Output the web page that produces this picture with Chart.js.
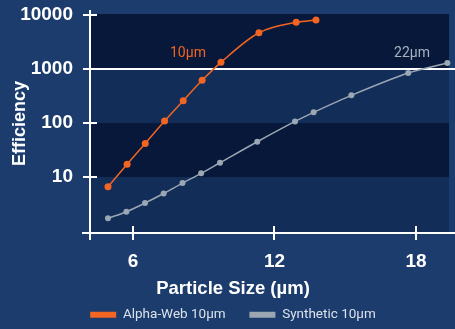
<!DOCTYPE html>
<html lang="en">
<head>
    <meta charset="UTF-8">
    <title>Efficiency vs Particle Size</title>
    <script src="https://cdn.jsdelivr.net/npm/chart.js"></script>
    <style>
        html, body { margin: 0; padding: 0; background: #1b3c6c; }
        #wrap { width: 455px; height: 329px; }
    </style>
</head>
<body>
    <div id="wrap">
        <canvas id="effChart" width="455" height="329"></canvas>
    </div>

    <script>
        // values
        var alphaX = [4.94, 5.75, 6.52, 7.34, 8.13, 8.93, 9.73, 11.34, 12.92, 13.76];
        var alphaY = [6.6, 17.2, 42, 109, 259, 618, 1331, 4700, 7330, 8080];
        var synthX = [4.94, 5.72, 6.51, 7.30, 8.10, 8.89, 9.69, 11.27, 12.87, 13.66, 15.26, 17.67, 19.33];
        var synthY = [1.72, 2.28, 3.30, 4.95, 7.74, 11.7, 18.4, 45, 107, 158, 326, 843, 1291];
        var seriesNames = ['Alpha-Web 10µm', 'Synthetic 10µm'];
        var xTicks = [6, 12, 18];
        var yTicks = [10, 100, 1000, 10000];
        var curveLabels = ['10µm', '22µm'];
        var curveLabelX = [8.33, 17.83];
        var curveLabelY = [1900, 1900];

        var BOLD = "'Liberation Sans', Arial, sans-serif";
        var LIGHT = "Roboto, 'Liberation Sans', sans-serif";
        var ORANGE = '#f26522';
        var GREY = '#9ba7b3';

        function toPoints(xs, ys) {
            return xs.map(function (x, i) { return { x: x, y: ys[i] }; });
        }

        // bands, white 1000 line, axes, tick marks and curve labels
        var decor = {
            id: 'decor',
            beforeDatasetsDraw: function (chart) {
                var ctx = chart.ctx, a = chart.chartArea;
                var xs = chart.scales.x, ys = chart.scales.y;
                var right = xs.getPixelForValue(19.4);
                var edges = [a.top, ys.getPixelForValue(1000), ys.getPixelForValue(100), ys.getPixelForValue(10), a.bottom];
                var fills = ['#07183b', '#132d59', '#07183b', '#132d59'];
                ctx.save();
                for (var i = 0; i < fills.length; i++) {
                    ctx.fillStyle = fills[i];
                    ctx.fillRect(a.left, edges[i], right - a.left, edges[i + 1] - edges[i]);
                }
                ctx.strokeStyle = '#ffffff';
                ctx.lineWidth = 2;
                ctx.beginPath();
                var y1000 = Math.round(ys.getPixelForValue(1000));
                ctx.moveTo(a.left, y1000);
                ctx.lineTo(chart.width, y1000);
                ctx.moveTo(a.left, a.top - 4);
                ctx.lineTo(a.left, a.bottom + 7);
                ctx.moveTo(a.left - 8, a.bottom);
                ctx.lineTo(chart.width, a.bottom);
                yTicks.forEach(function (v) {
                    var p = Math.round(ys.getPixelForValue(v));
                    ctx.moveTo(a.left - 7, p);
                    ctx.lineTo(a.left + 7, p);
                });
                xTicks.forEach(function (v) {
                    var p = Math.round(xs.getPixelForValue(v));
                    ctx.moveTo(p, a.bottom - 7);
                    ctx.lineTo(p, a.bottom + 7);
                });
                ctx.stroke();

                ctx.font = '14px ' + LIGHT;
                ctx.textAlign = 'center';
                ctx.textBaseline = 'middle';
                var colors = [ORANGE, '#a7b2be'];
                curveLabels.forEach(function (t, i) {
                    ctx.fillStyle = colors[i];
                    ctx.fillText(t, xs.getPixelForValue(curveLabelX[i]), ys.getPixelForValue(curveLabelY[i]));
                });
                ctx.restore();
            }
        };

        var ctx = document.getElementById('effChart').getContext('2d');
        var effChart = new Chart(ctx, {
            type: 'line',
            data: {
                datasets: [
                    {
                        label: seriesNames[0],
                        data: toPoints(alphaX, alphaY),
                        borderColor: ORANGE,
                        backgroundColor: ORANGE,
                        borderWidth: 1.5,
                        pointRadius: 3.5,
                        pointBorderWidth: 0,
                        cubicInterpolationMode: 'monotone',
                    },
                    {
                        label: seriesNames[1],
                        data: toPoints(synthX, synthY),
                        borderColor: GREY,
                        backgroundColor: GREY,
                        borderWidth: 1.5,
                        pointRadius: 3,
                        pointBorderWidth: 0,
                        tension: 0.3,
                    },
                ],
            },
            options: {
                responsive: false,
                animation: false,
                clip: false,
                layout: { autoPadding: false, padding: { left: 11, right: 0, top: 14, bottom: 0 } },
                scales: {
                    x: {
                        type: 'linear',
                        min: 4.177,
                        max: 19.654,
                        grid: { display: false, drawTicks: false },
                        border: { display: false },
                        afterBuildTicks: function (s) { s.ticks = xTicks.map(function (v) { return { value: v }; }); },
                        afterFit: function (s) { s.height = 46.5; s.paddingLeft = 0; s.paddingRight = 0; },
                        ticks: {
                            color: '#ffffff',
                            padding: 17,
                            maxRotation: 0,
                            font: { family: BOLD, size: 19, weight: 'bold' },
                        },
                    },
                    y: {
                        type: 'logarithmic',
                        min: 0.92,
                        max: 10450,
                        grid: { display: false, drawTicks: false },
                        border: { display: false },
                        afterBuildTicks: function (s) { s.ticks = yTicks.map(function (v) { return { value: v }; }); },
                        afterFit: function (s) { s.width = 79; s.paddingTop = 0; s.paddingBottom = 0; },
                        ticks: {
                            color: '#ffffff',
                            padding: 17,
                            callback: function (v) { return String(v); },
                            font: { family: BOLD, size: 19, weight: 'bold' },
                        },
                        title: {
                            display: true,
                            text: 'Efficiency',
                            color: '#ffffff',
                            padding: 0,
                            font: { family: BOLD, size: 18, weight: 'bold', lineHeight: 1 },
                        },
                    },
                },
                plugins: {
                    title: {
                        display: true,
                        position: 'bottom',
                        weight: 500,
                        text: 'Particle Size (µm)',
                        color: '#ffffff',
                        padding: 0,
                        font: { family: BOLD, size: 18.5, weight: 'bold', lineHeight: 1 },
                    },
                    legend: {
                        position: 'bottom',
                        maxHeight: 31,
                        labels: {
                            color: '#dbe2ea',
                            boxWidth: 26,
                            boxHeight: 6,
                            padding: 10,
                            font: { family: LIGHT, size: 13.5 },
                            generateLabels: function (chart) {
                                var items = Chart.defaults.plugins.legend.labels.generateLabels(chart);
                                items.forEach(function (it, i) {
                                    it.lineWidth = 0;
                                    // wider gap between the two entries
                                    if (i < items.length - 1) it.text = it.text + '\u2002\u2002';
                                });
                                return items;
                            },
                        },
                    },
                    tooltip: { enabled: false },
                },
            },
            plugins: [decor],
        });
    </script>
</body>
</html>
